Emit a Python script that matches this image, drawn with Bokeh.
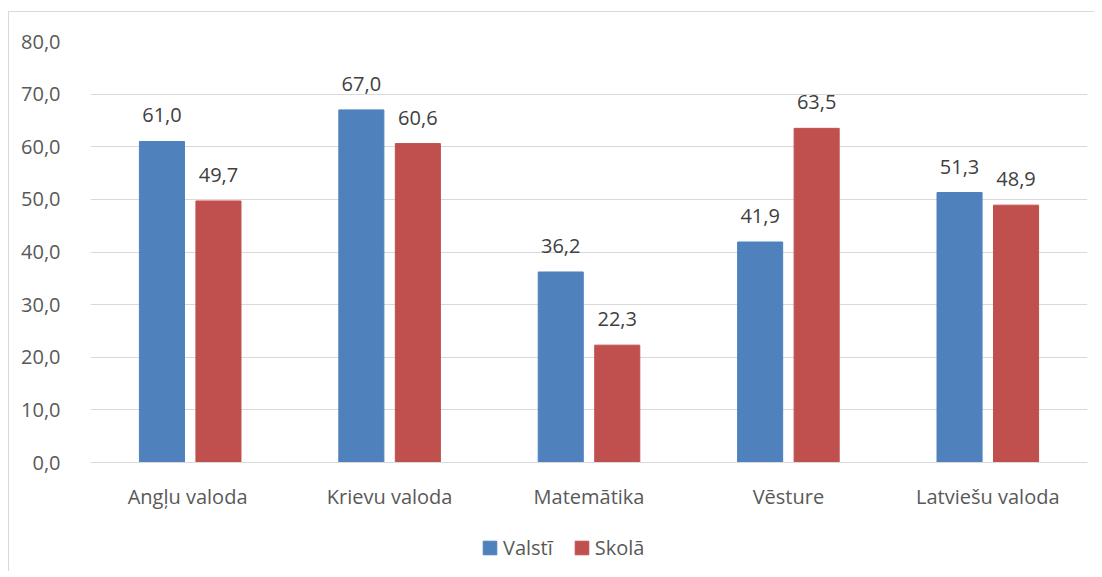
from bokeh.plotting import figure
from bokeh.models import (ColumnDataSource, FactorRange, Range1d, FixedTicker,
                          CustomJSTickFormatter, LabelSet, Legend, LegendItem)
from bokeh.core.properties import value
from bokeh.transform import dodge
from bokeh.embed import file_html
from bokeh.resources import INLINE

categories = ["Angļu  valoda", "Krievu valoda", "Matemātika", "Vēsture", "Latviešu valoda"]
valsti = [61.0, 67.0, 36.2, 41.9, 51.3]
skola = [49.7, 60.6, 22.3, 63.5, 48.9]
series_names = ["Valstī", "Skolā"]
y_ticks = [0, 10, 20, 30, 40, 50, 60, 70, 80]

BLUE = "#4F81BD"
RED = "#C0504D"
FONT = "Open Sans"
FS = "20px"

# layout: the value axis spans 421 px; the frame continues below it to hold
# the category labels and the legend
AXIS_PX = 421
FRAME_PX = 530
Y_MAX = 80
y_min = -Y_MAX * (FRAME_PX - AXIS_PX) / AXIS_PX

def fmt(v):
    return f"{v:.1f}".replace(".", ",")

src = ColumnDataSource(dict(
    cat=categories,
    valsti=valsti,
    skola=skola,
    valsti_lbl=[fmt(v) for v in valsti],
    skola_lbl=[fmt(v) for v in skola],
))

p = figure(x_range=FactorRange(*categories, range_padding=0),
           y_range=Range1d(y_min, Y_MAX),
           frame_width=997, frame_height=FRAME_PX,
           min_border_left=81, min_border_right=7,
           min_border_top=29, min_border_bottom=0,
           output_backend="svg", toolbar_location=None)
p.styles = {"border-left": "1px solid #d9d9d9", "border-top": "1px solid #d9d9d9",
            "margin-top": "11px", "margin-left": "8px"}
p.outline_line_color = None
p.background_fill_color = "white"
p.border_fill_color = "white"

r1 = p.vbar(x=dodge("cat", -0.1417, range=p.x_range), top="valsti", width=0.226,
            source=src, fill_color=BLUE, line_color=BLUE)
r2 = p.vbar(x=dodge("cat", 0.1417, range=p.x_range), top="skola", width=0.226,
            source=src, fill_color=RED, line_color=RED)

for col, off in (("valsti", -0.1417), ("skola", 0.1417)):
    lbl = LabelSet(x=dodge("cat", off, range=p.x_range), y=col, text=col + "_lbl",
                   source=src, text_align="center", text_baseline="alphabetic",
                   y_offset=19, text_font=value(FONT), text_font_size=value(FS),
                   text_color="#404040")
    p.add_layout(lbl)

p.xgrid.grid_line_color = None
p.ygrid.grid_line_color = "#d9d9d9"
p.ygrid.grid_line_width = 1
p.ygrid.ticker = FixedTicker(ticks=y_ticks)

p.yaxis.ticker = FixedTicker(ticks=y_ticks)
p.yaxis.formatter = CustomJSTickFormatter(code="return tick.toFixed(1).replace('.', ',');")
p.yaxis.axis_line_color = None
p.yaxis.major_tick_line_color = None
p.yaxis.minor_tick_line_color = None
p.yaxis.major_label_standoff = 24
p.yaxis.major_label_text_font = FONT
p.yaxis.major_label_text_font_size = FS
p.yaxis.major_label_text_color = "#595959"

p.xaxis.fixed_location = 0
p.xaxis.axis_line_color = "#d9d9d9"
p.xaxis.major_tick_line_color = None
p.xaxis.major_tick_out = 0
p.xaxis.major_label_standoff = 20
p.xaxis.major_label_text_font = FONT
p.xaxis.major_label_text_font_size = FS
p.xaxis.major_label_text_color = "#595959"

legend = Legend(items=[LegendItem(label=series_names[0], renderers=[r1]),
                       LegendItem(label=series_names[1], renderers=[r2])],
                orientation="horizontal", location=(391, 10),
                glyph_width=17, glyph_height=17, label_standoff=5, spacing=20,
                padding=0, margin=0, border_line_color=None,
                background_fill_alpha=0,
                label_text_font=FONT, label_text_font_size=FS,
                label_text_color="#595959")
p.add_layout(legend)

open("out.html", "w").write(file_html(p, INLINE))
